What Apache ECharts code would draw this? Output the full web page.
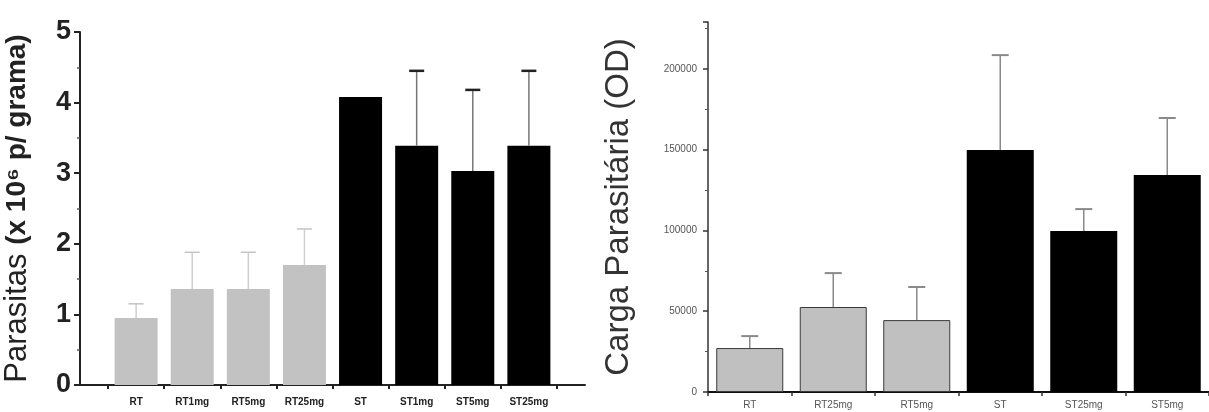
<!DOCTYPE html>
<html>
<head>
<meta charset="utf-8">
<script src="https://cdn.jsdelivr.net/npm/echarts@6/dist/echarts.min.js"></script>
<style>html,body{margin:0;padding:0;background:#fff}#c{width:1209px;height:412px}</style>
</head>
<body>
<div id="c"></div>
<script>
// Left panel: parasites (x 10^6 per gram)
const catsL = ['RT', 'RT1mg', 'RT5mg', 'RT25mg', 'ST', 'ST1mg', 'ST5mg', 'ST25mg'];
const valsL = [0.95, 1.36, 1.36, 1.70, 4.08, 3.39, 3.03, 3.39];
const errTopL = [1.15, 1.88, 1.88, 2.21, null, 4.45, 4.18, 4.45];
const ticksL = [0, 1, 2, 3, 4, 5];

// Right panel: parasite load (OD)
const catsR = ['RT', 'RT25mg', 'RT5mg', 'ST', 'ST25mg', 'ST5mg'];
const valsR = [27200, 52600, 44500, 149800, 99600, 134300];
const errTopR = [34600, 73600, 65000, 208500, 113200, 169600];
const ticksR = [0, 50000, 100000, 150000, 200000];

const isST = c => c.charAt(0) === 'S';
const chart = echarts.init(document.getElementById('c'), null, {renderer: 'canvas'});
const F = '"Liberation Sans", Arial, sans-serif';

function errRender(capW, stemColor, capColor, capWidth) {
  return function (params, api) {
    const x = api.value(0), y0 = api.value(1), y1 = api.value(2);
    if (y1 == null || isNaN(y1)) return;
    const s = api.value(3);
    const p0 = api.coord([x, y0]);
    const p1 = api.coord([x, y1]);
    return {
      type: 'group',
      children: [
        {type: 'line', shape: {x1: p0[0], y1: p0[1], x2: p1[0], y2: p1[1]},
         style: {stroke: stemColor(s), lineWidth: 1.5}},
        {type: 'line', shape: {x1: p1[0] - capW / 2, y1: p1[1], x2: p1[0] + capW / 2, y2: p1[1]},
         style: {stroke: capColor(s), lineWidth: capWidth(s)}}
      ]
    };
  };
}

const option = {
  animation: false,
  backgroundColor: '#fff',
  grid: [
    {left: 80, width: 505, top: 32, bottom: 27},
    {left: 708, right: -8, top: 22, bottom: 20}
  ],
  xAxis: [
    {
      gridIndex: 0, type: 'value', min: -1, max: 8, interval: 1,
      axisLine: {onZero: false, lineStyle: {color: '#222', width: 2}},
      axisTick: {show: false},
      minorTick: {show: true, splitNumber: 2, length: 4, lineStyle: {color: '#222', width: 2}},
      splitLine: {show: false}, minorSplitLine: {show: false},
      axisLabel: {
        margin: 12, fontFamily: F, fontWeight: 'bold', fontSize: 10, color: '#222',
        formatter: v => catsL[v] || ''
      }
    },
    {
      gridIndex: 1, type: 'category', data: catsR, boundaryGap: true,
      axisLine: {lineStyle: {color: '#111', width: 2}},
      axisTick: {show: true, length: 4, lineStyle: {color: '#333', width: 1.5}},
      splitLine: {show: false},
      axisLabel: {margin: 8, fontFamily: F, fontSize: 10, color: '#555', interval: 0}
    }
  ],
  yAxis: [
    {
      gridIndex: 0, type: 'value', min: ticksL[0], max: ticksL[ticksL.length - 1], interval: 1,
      axisLine: {show: true, onZero: false, lineStyle: {color: '#222', width: 2}},
      axisTick: {show: true, length: 6, lineStyle: {color: '#222', width: 2}},
      minorTick: {show: true, splitNumber: 2, length: 3, lineStyle: {color: '#555', width: 1.5}},
      splitLine: {show: false}, minorSplitLine: {show: false},
      axisLabel: {margin: 9, fontFamily: F, fontWeight: 'bold', fontSize: 27, color: '#222'},
      name: '{r|Parasitas }{b|(x 10⁶ p/ grama)}',
      nameLocation: 'middle', nameGap: 47,
      nameTextStyle: {
        rich: {
          r: {fontFamily: F, fontSize: 31, color: '#222'},
          b: {fontFamily: F, fontSize: 28, fontWeight: 'bold', color: '#222'}
        }
      }
    },
    {
      gridIndex: 1, type: 'value', min: 0, max: 229000, interval: 50000,
      axisLine: {show: true, lineStyle: {color: '#333', width: 1.5}},
      axisTick: {show: true, length: 5, lineStyle: {color: '#333', width: 1.5}},
      minorTick: {show: true, splitNumber: 2, length: 3, lineStyle: {color: '#555', width: 1}},
      splitLine: {show: false}, minorSplitLine: {show: false},
      axisLabel: {margin: 11, fontFamily: F, fontSize: 10, color: '#555',
        formatter: v => (ticksR.indexOf(v) >= 0 ? String(v) : '')},
      name: 'Carga Parasitária (OD)',
      nameLocation: 'middle', nameGap: 73,
      nameTextStyle: {fontFamily: F, fontSize: 33, color: '#333'}
    }
  ],
  series: [
    {
      type: 'bar', xAxisIndex: 0, yAxisIndex: 0, barWidth: 43,
      data: catsL.map((c, i) => ({
        value: [i, valsL[i]],
        itemStyle: {color: isST(c) ? '#000' : '#c2c2c2'}
      })),
      z: 2
    },
    {
      type: 'custom', xAxisIndex: 0, yAxisIndex: 0, z: 3,
      renderItem: errRender(15,
        s => (s ? '#777' : '#cfcfcf'),
        s => (s ? '#222' : '#c4c4c4'),
        s => (s ? 2.5 : 1.5)),
      data: catsL.map((c, i) => [i, valsL[i], errTopL[i], isST(c) ? 1 : 0])
    },
    {
      type: 'bar', xAxisIndex: 1, yAxisIndex: 1, barWidth: 67,
      data: catsR.map((c, i) => ({
        value: valsR[i],
        itemStyle: isST(c) ? {color: '#000'} : {color: '#c0c0c0', borderColor: '#3a3a3a', borderWidth: 1}
      })),
      z: 2
    },
    {
      type: 'custom', xAxisIndex: 1, yAxisIndex: 1, z: 3,
      renderItem: errRender(17,
        s => '#8a8a8a',
        s => '#8a8a8a',
        s => 2),
      data: catsR.map((c, i) => [i, valsR[i], errTopR[i], isST(c) ? 1 : 0])
    }
  ]
};
chart.setOption(option);
</script>
</body>
</html>
